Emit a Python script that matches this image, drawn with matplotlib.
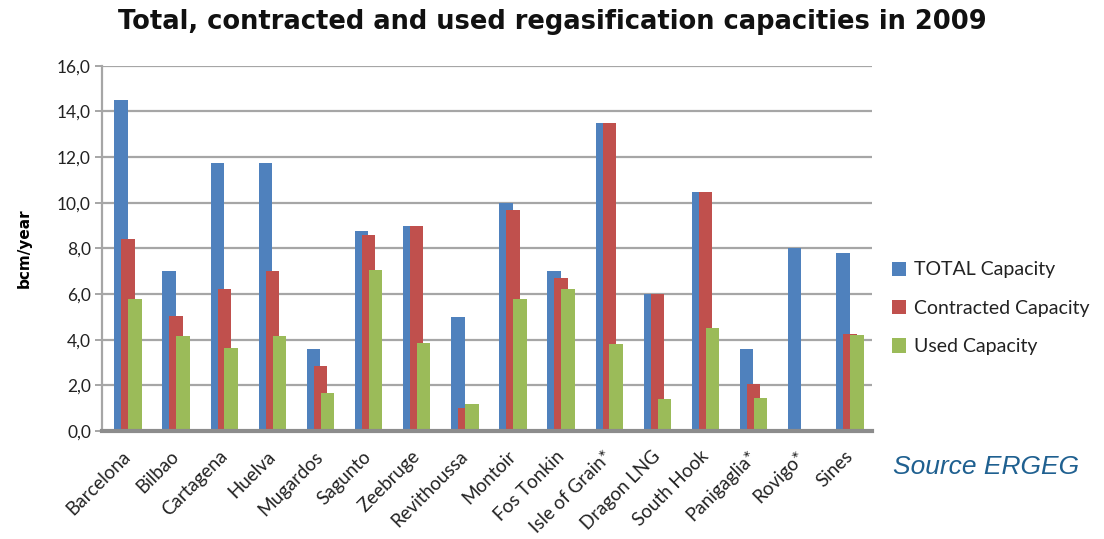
import numpy as np
import matplotlib.pyplot as plt
from matplotlib.ticker import FuncFormatter
from matplotlib.transforms import ScaledTranslation

terminals = ["Barcelona", "Bilbao", "Cartagena", "Huelva", "Mugardos", "Sagunto",
             "Zeebruge", "Revithoussa", "Montoir", "Fos Tonkin", "Isle of Grain*",
             "Dragon LNG", "South Hook", "Panigaglia*", "Rovigo*", "Sines"]
total = [14.5, 7.0, 11.75, 11.75, 3.6, 8.77, 9.0, 5.0, 10.0, 7.0, 13.5, 6.0, 10.45, 3.6, 8.0, 7.8]
contracted = [8.4, 5.05, 6.2, 7.0, 2.85, 8.6, 9.0, 1.0, 9.7, 6.7, 13.5, 6.0, 10.45, 2.05, 0, 4.25]
used = [5.8, 4.15, 3.65, 4.15, 1.65, 7.05, 3.85, 1.2, 5.8, 6.2, 3.8, 1.4, 4.5, 1.45, 0, 4.2]

series = [("TOTAL Capacity", total, "#4F81BD"),
          ("Contracted Capacity", contracted, "#C0504D"),
          ("Used Capacity", used, "#9BBB59")]

fig = plt.figure(figsize=(11.04, 5.39), dpi=100)
ax = fig.add_axes([102 / 1104, 1 - 431 / 539, 770 / 1104, 365.3 / 539])

x = np.arange(len(terminals))
w = 0.28
step = 0.145
for i, (name, vals, col) in enumerate(series):
    ax.bar(x + (i - 1) * step + 0.04, vals, width=w, color=col, label=name, zorder=3 + i)

ax.set_xlim(-0.5, len(terminals) - 0.5)
ax.set_ylim(0, 16)
ax.set_yticks(np.arange(0, 16.1, 2))
ax.yaxis.set_major_formatter(FuncFormatter(lambda v, p: f"{v:.1f}".replace(".", ",")))
ax.grid(axis="y", color="#a6a6a6", linewidth=1.6, zorder=0)
for s in ["top", "right"]:
    ax.spines[s].set_visible(False)
ax.spines["left"].set_color("#a6a6a6")
ax.spines["left"].set_linewidth(1.6)
ax.spines["bottom"].set_color("#8c8c8c")
ax.spines["bottom"].set_linewidth(3)
ax.spines["bottom"].set_zorder(10)
ax.tick_params(axis="y", length=5, width=1.4, color="#a6a6a6", labelsize=12.5, pad=3,
               labelcolor="#222222")
ax.tick_params(axis="x", length=0, pad=12)
ax.set_xticks(x)
ax.set_xticklabels(terminals, rotation=45, ha="right", rotation_mode="anchor",
                   fontsize=13.5, color="#222222", family="Lato")
shift = ScaledTranslation(-4 / 100, 0, fig.dpi_scale_trans)
for lab in ax.get_xticklabels():
    lab.set_transform(lab.get_transform() + shift)
for lab in ax.get_yticklabels():
    lab.set_family("Lato")

ax.set_ylabel("bcm/year", fontsize=11, fontweight="bold", labelpad=18)

fig.text(0.5, 1 - 22 / 539, "Total, contracted and used regasification capacities in 2009",
         ha="center", va="center", fontsize=18.5, fontweight="bold", color="#111111")

leg = fig.legend(loc="upper left", bbox_to_anchor=(874 / 1104, 1 - 244 / 539), frameon=False,
                 handlelength=0.75, handleheight=0.75, handletextpad=0.4,
                 labelspacing=1.1, prop={"family": "Lato", "size": 14})
for t in leg.get_texts():
    t.set_color("#222222")

fig.text(893 / 1104, 1 - 467 / 539, "Source ERGEG", ha="left", va="center",
         fontsize=19, style="italic", color="#1F6090", family="Liberation Sans")

fig.savefig("out.png", dpi=100)
